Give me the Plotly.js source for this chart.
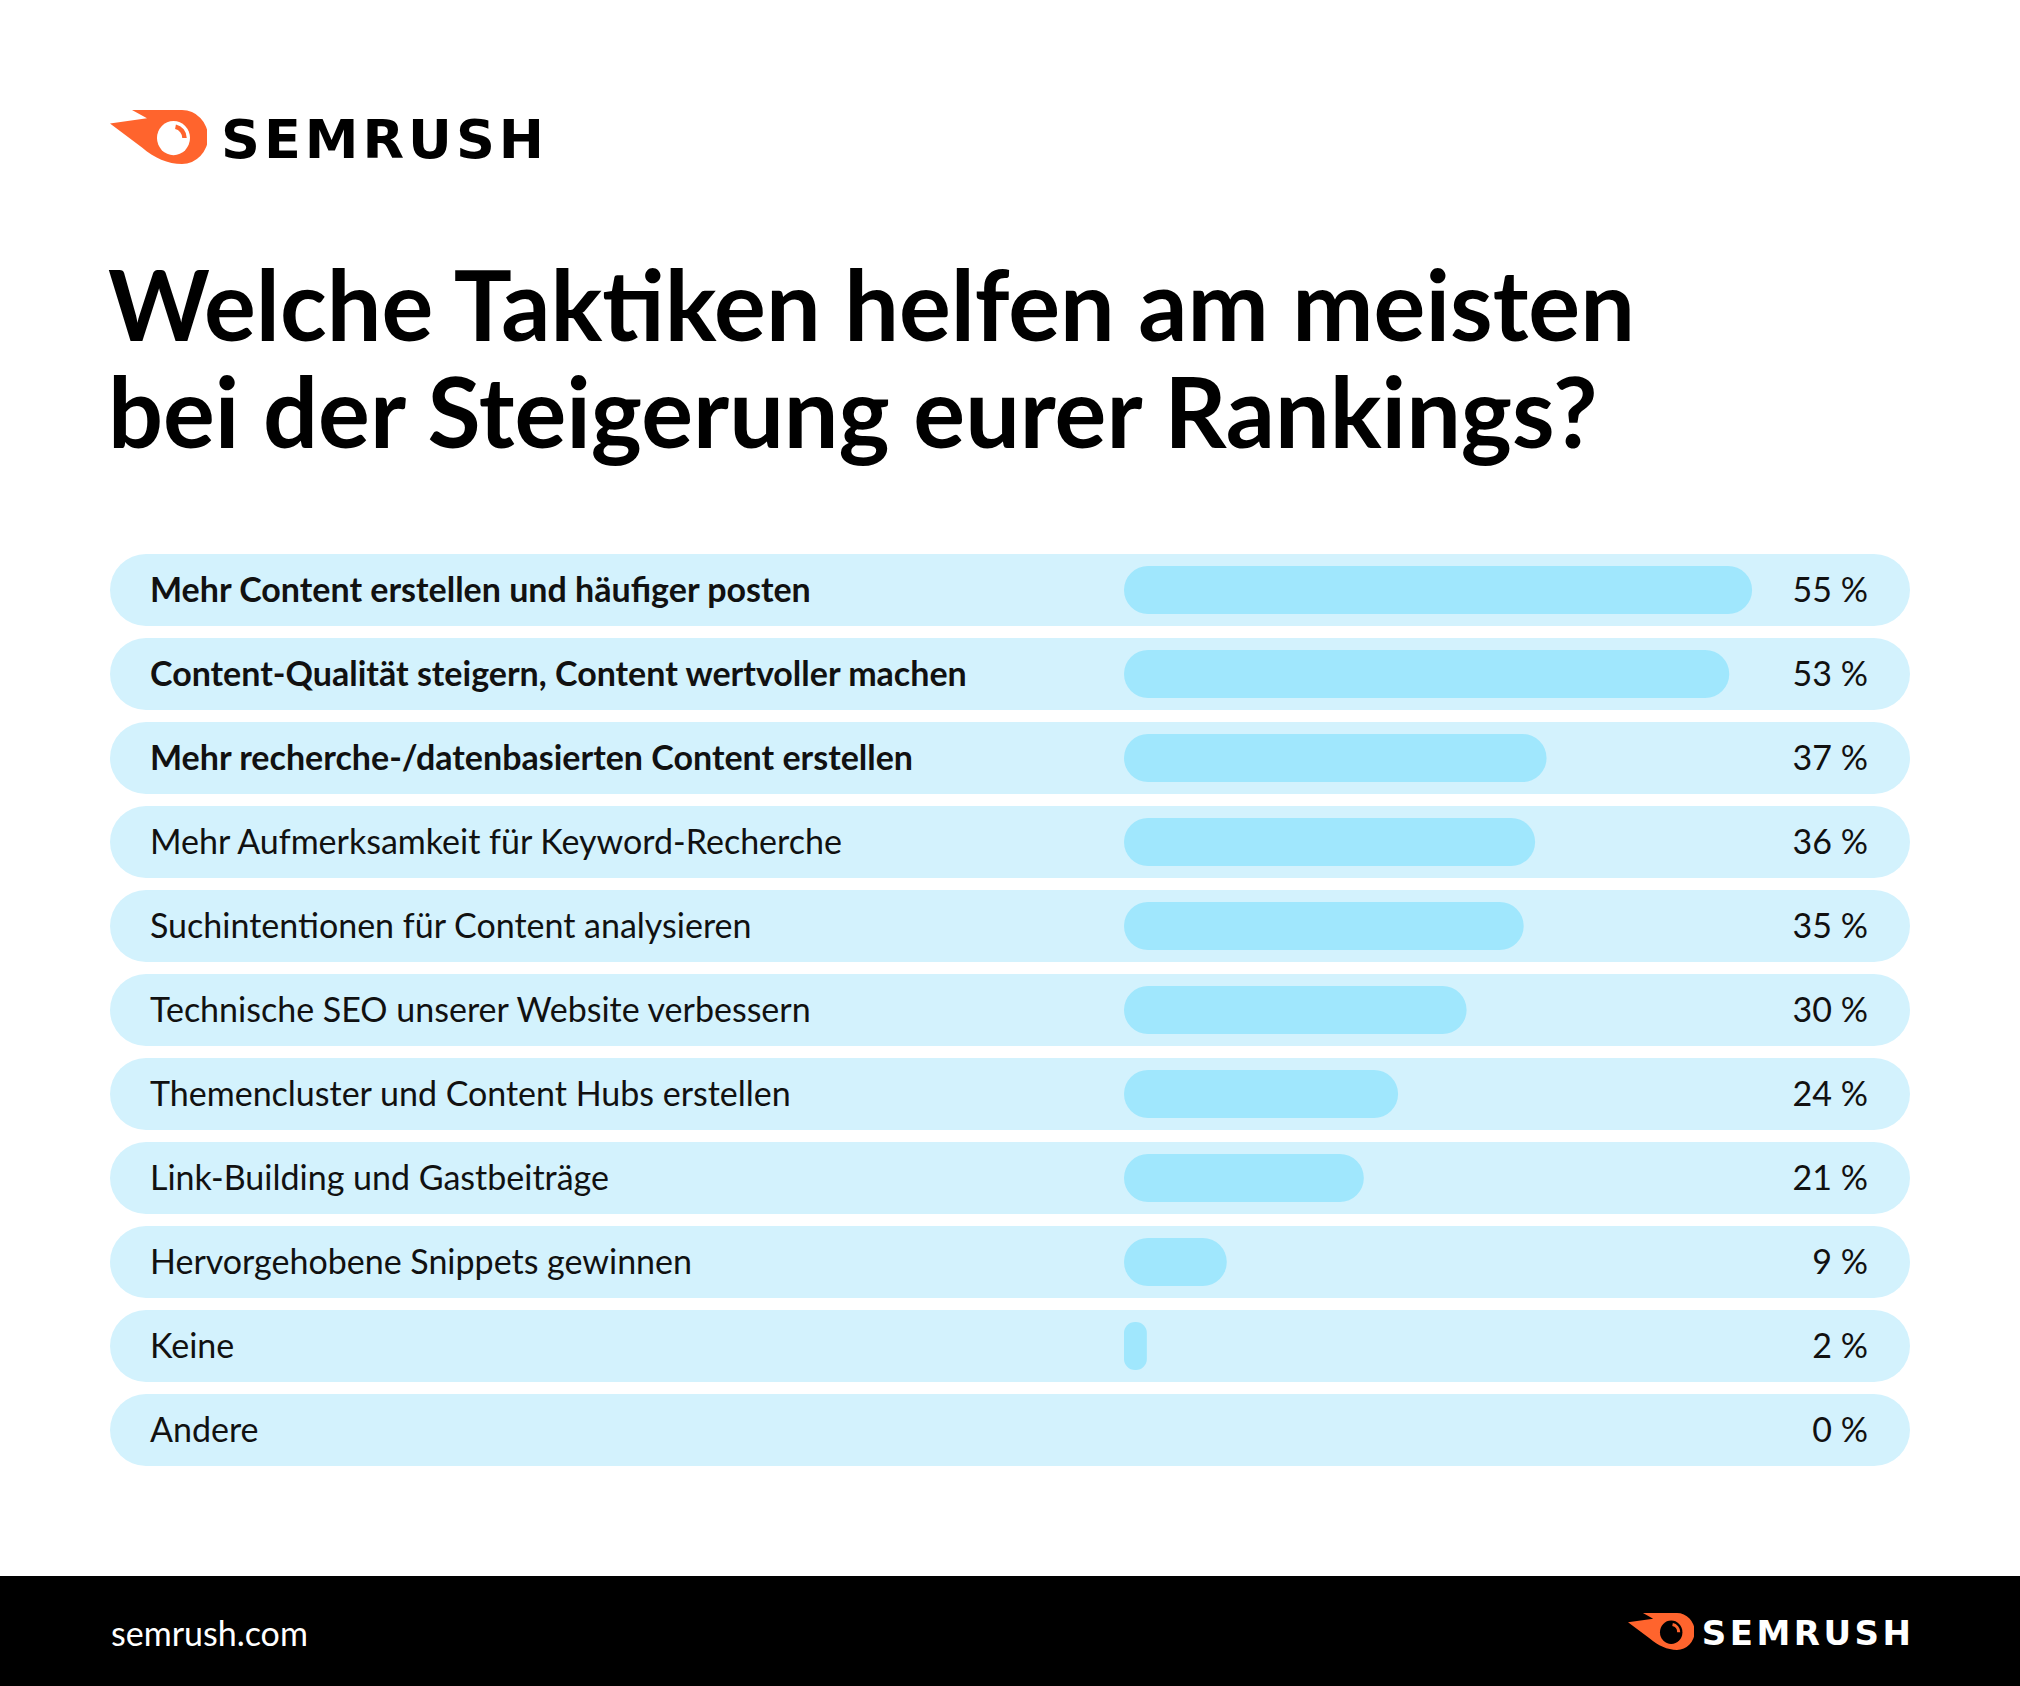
<!DOCTYPE html>
<html>
<head>
<meta charset="utf-8">
<script src="https://cdn.plot.ly/plotly-3.0.1.min.js"></script>
<style>
  html, body { margin: 0; padding: 0; background: #ffffff; }
  #chart { width: 2020px; height: 1686px; }
  .annotation[data-index="0"] .annotation-text { letter-spacing: 4px; }
  .annotation[data-index="4"] .annotation-text { letter-spacing: 3.5px; }
</style>
</head>
<body>
<div id="chart"></div>
<script>
// ---- data ----
const categories = [
  "Mehr Content erstellen und häufiger posten",
  "Content-Qualität steigern, Content wertvoller machen",
  "Mehr recherche-/datenbasierten Content erstellen",
  "Mehr Aufmerksamkeit für Keyword-Recherche",
  "Suchintentionen für Content analysieren",
  "Technische SEO unserer Website verbessern",
  "Themencluster und Content Hubs erstellen",
  "Link-Building und Gastbeiträge",
  "Hervorgehobene Snippets gewinnen",
  "Keine",
  "Andere"
];
const values = [55, 53, 37, 36, 35, 30, 24, 21, 9, 2, 0];
const emphasized = [true, true, true, false, false, false, false, false, false, false, false];
const titleLines = ["Welche Taktiken helfen am meisten", "bei der Steigerung eurer Rankings?"];
const brandName = "SEMRUSH";
const siteName = "semrush.com";

// ---- layout constants ----
const W = 2020, H = 1686;
const pxPerUnit = 11.42;
const plotLeft = 110, plotRight = 1910, zeroPx = 1124;
const R0 = -(zeroPx - plotLeft) / pxPerUnit;
const R1 = R0 + (plotRight - plotLeft) / pxPerUnit;
const rowTop = 548, rowPitch = 84;
const yTop = rowTop, yBottom = rowTop + rowPitch * categories.length;
const py = p => 1 - p / H;
const px = p => p / W;

const idx = categories.map((c, i) => i);
const tickText = categories.map((c, i) => emphasized[i] ? "<b>" + c + "</b>" : c);
const pctText = values.map(v => v + " %");

const ORANGE = "#FF642D";
function logoSvg(inner, arc) {
  const s = '<svg xmlns="http://www.w3.org/2000/svg" viewBox="0 0 97 52">' +
    '<path d="M22 0 L72 0 A26 26 0 0 1 72 52 C58 52 44 46 32 36 L0 13 L37 8 Z" fill="' + ORANGE + '"/>' +
    '<circle cx="63.5" cy="27" r="16.5" fill="' + inner + '"/>' +
    '<path d="M65.5 16.2 A11 11 0 0 1 74.5 27" fill="none" stroke="' + arc + '" stroke-width="4.5"/>' +
    '</svg>';
  return 'data:image/svg+xml;charset=utf-8,' + encodeURIComponent(s);
}

const BG = '#D3F2FD', BAR = '#A0E7FD';
const bgTrace = {
  type: 'bar', orientation: 'h', hoverinfo: 'skip', showlegend: false,
  y: idx, base: idx.map(() => R0), x: idx.map(() => R1 - R0),
  width: 72 / rowPitch, marker: { color: BG, cornerradius: 36 }, xaxis: 'x', yaxis: 'y'
};
const valueTrace = {
  type: 'bar', orientation: 'h', hoverinfo: 'skip', showlegend: false,
  y: idx, base: values.map(() => 0), x: values,
  width: 48 / rowPitch, marker: { color: BAR, cornerradius: 24 }, xaxis: 'x', yaxis: 'y2'
};

const labelFont = { family: 'Lato, sans-serif', size: 34, color: '#111111' };

const layout = {
  width: W, height: H,
  margin: { l: 0, r: 0, t: 0, b: 0, pad: 0 },
  paper_bgcolor: '#ffffff', plot_bgcolor: 'rgba(0,0,0,0)',
  barmode: 'overlay', showlegend: false,
  xaxis: {
    domain: [px(plotLeft), px(plotRight)], range: [R0, R1],
    showgrid: false, zeroline: false, showticklabels: false, showline: false, fixedrange: true
  },
  yaxis: {
    domain: [py(yBottom), py(yTop)], range: [categories.length - 0.5, -0.5],
    tickmode: 'array', tickvals: idx, ticktext: tickText,
    ticklabelposition: 'inside', ticks: '', ticklabelstandoff: 37,
    tickfont: labelFont, showgrid: false, zeroline: false, showline: false, fixedrange: true,
    anchor: 'x', side: 'left'
  },
  yaxis2: {
    overlaying: 'y', side: 'right', anchor: 'x',
    range: [categories.length - 0.5, -0.5],
    tickmode: 'array', tickvals: idx, ticktext: pctText,
    ticklabelposition: 'inside', ticks: '', ticklabelstandoff: 39,
    tickfont: labelFont, showgrid: false, zeroline: false, showline: false, fixedrange: true
  },
  shapes: [
    { type: 'rect', xref: 'paper', yref: 'paper', x0: 0, x1: 1, y0: 0, y1: py(1576),
      fillcolor: '#000000', line: { width: 0 }, layer: 'below' }
  ],
  images: [
    { source: logoSvg('#ffffff', ORANGE), xref: 'paper', yref: 'paper',
      x: px(110), y: py(110), sizex: px(97), sizey: 54 / H, sizing: 'stretch',
      xanchor: 'left', yanchor: 'top', layer: 'above' },
    { source: logoSvg('#000000', ORANGE), xref: 'paper', yref: 'paper',
      x: px(1628), y: py(1613), sizex: px(66), sizey: 37 / H, sizing: 'stretch',
      xanchor: 'left', yanchor: 'top', layer: 'above' }
  ],
  annotations: [
    { text: brandName, xref: 'paper', yref: 'paper', x: px(234), y: py(140),
      xanchor: 'left', yanchor: 'middle', showarrow: false, borderpad: 0,
      font: { family: 'DejaVu Sans', size: 54, weight: 700, color: '#000000' } },
    { text: titleLines[0], xref: 'paper', yref: 'paper', x: px(107), y: py(304),
      xanchor: 'left', yanchor: 'middle', showarrow: false, borderpad: 0,
      font: { family: 'Lato', size: 97, weight: 700, color: '#000000' } },
    { text: titleLines[1], xref: 'paper', yref: 'paper', x: px(107), y: py(411),
      xanchor: 'left', yanchor: 'middle', showarrow: false, borderpad: 0,
      font: { family: 'Lato', size: 97, weight: 700, color: '#000000' } },
    { text: siteName, xref: 'paper', yref: 'paper', x: px(110), y: py(1632),
      xanchor: 'left', yanchor: 'middle', showarrow: false, borderpad: 0,
      font: { family: 'Lato', size: 34, color: '#ffffff' } },
    { text: brandName, xref: 'paper', yref: 'paper', x: px(1713), y: py(1633),
      xanchor: 'left', yanchor: 'middle', showarrow: false, borderpad: 0,
      font: { family: 'DejaVu Sans', size: 34, weight: 700, color: '#ffffff' } }
  ]
};

Plotly.newPlot('chart', [bgTrace, valueTrace], layout, { staticPlot: true, displayModeBar: false });
</script>
</body>
</html>
